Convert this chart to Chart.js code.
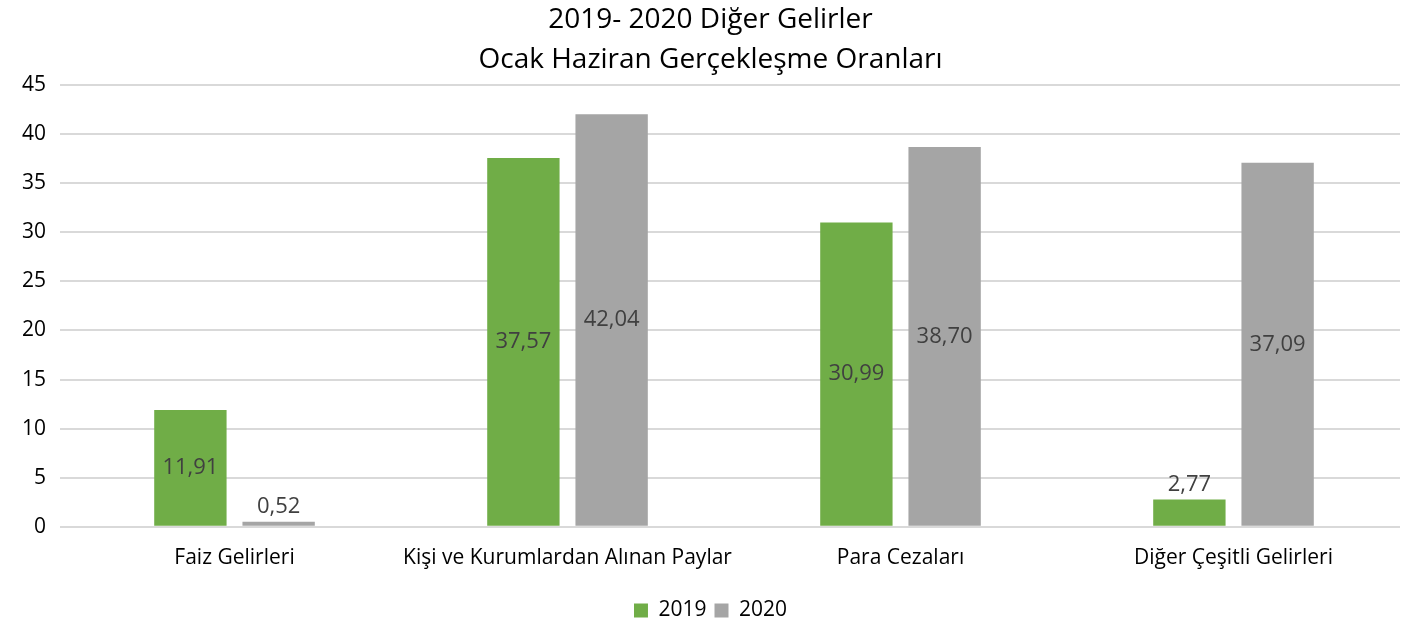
<!DOCTYPE html>
<html>
<head>
  <meta charset="utf-8">
  <title>2019- 2020 Diğer Gelirler</title>
  <script src="https://cdn.jsdelivr.net/npm/chart.js"></script>
  <style>
    body { margin: 0; background: #fff; }
    #wrap { width: 1425px; height: 625px; }
  </style>
</head>
<body>
  <div id="wrap"><canvas id="chart" width="1425" height="625"></canvas></div>
  <script>
    const categories = ['Faiz Gelirleri', 'Kişi ve Kurumlardan Alınan Paylar', 'Para Cezaları', 'Diğer Çeşitli Gelirleri'];
    const values2019 = [11.91, 37.57, 30.99, 2.77];
    const values2020 = [0.52, 42.04, 38.70, 37.09];
    const titleLines = ['2019- 2020 Diğer Gelirler', 'Ocak Haziran Gerçekleşme Oranları'];

    const FONT = "'Open Sans', sans-serif";

    // labels in bar middle, or above when the bar is too short
    const barLabels = {
      id: 'barLabels',
      afterDatasetsDraw(chart) {
        const ctx = chart.ctx;
        ctx.save();
        ctx.font = '22px ' + FONT;
        ctx.fillStyle = '#404040';
        ctx.textAlign = 'center';
        ctx.textBaseline = 'middle';
        chart.data.datasets.forEach((ds, i) => {
          chart.getDatasetMeta(i).data.forEach((bar, j) => {
            const txt = ds.data[j].toFixed(2).replace('.', ',');
            const h = bar.base - bar.y;
            const y = h < 40 ? bar.y - 15 : bar.y + h / 2;
            ctx.fillText(txt, bar.x, y);
          });
        });
        ctx.restore();
      }
    };

    new Chart(document.getElementById('chart'), {
      type: 'bar',
      data: {
        labels: categories,
        datasets: [
          { label: '2019', data: values2019, backgroundColor: '#70AD47' },
          { label: '2020', data: values2020, backgroundColor: '#A5A5A5' }
        ]
      },
      options: {
        responsive: false,
        animation: false,
        datasets: { bar: { categoryPercentage: 0.53, barPercentage: 0.82 } },
        layout: { padding: { left: 21, right: 25, top: 0, bottom: -6 } },
        plugins: {
          title: {
            display: true,
            text: titleLines,
            color: '#000',
            font: { family: FONT, size: 28, weight: 'normal', lineHeight: 1.43 },
            padding: { top: 0, bottom: 5 }
          },
          legend: {
            position: 'bottom',
            labels: {
              color: '#000', boxWidth: 14, boxHeight: 14, padding: 8,
              font: { family: FONT, size: 21 }
            }
          },
          tooltip: { enabled: false }
        },
        scales: {
          x: {
            grid: { display: false },
            border: { display: false },
            afterFit: (scale) => { scale.height += 10; },
            ticks: {
              color: '#000', font: { family: FONT, size: 21 }, padding: 11,
              maxRotation: 0, minRotation: 0, autoSkip: false
            }
          },
          y: {
            min: 0, max: 45,
            afterFit: (scale) => { scale.width -= 13; },
            ticks: { stepSize: 5, color: '#000', font: { family: FONT, size: 21 }, padding: 14 },
            grid: { color: '#D9D9D9', lineWidth: 2 },
            border: { display: false }
          }
        }
      },
      plugins: [barLabels]
    });
  </script>
</body>
</html>
